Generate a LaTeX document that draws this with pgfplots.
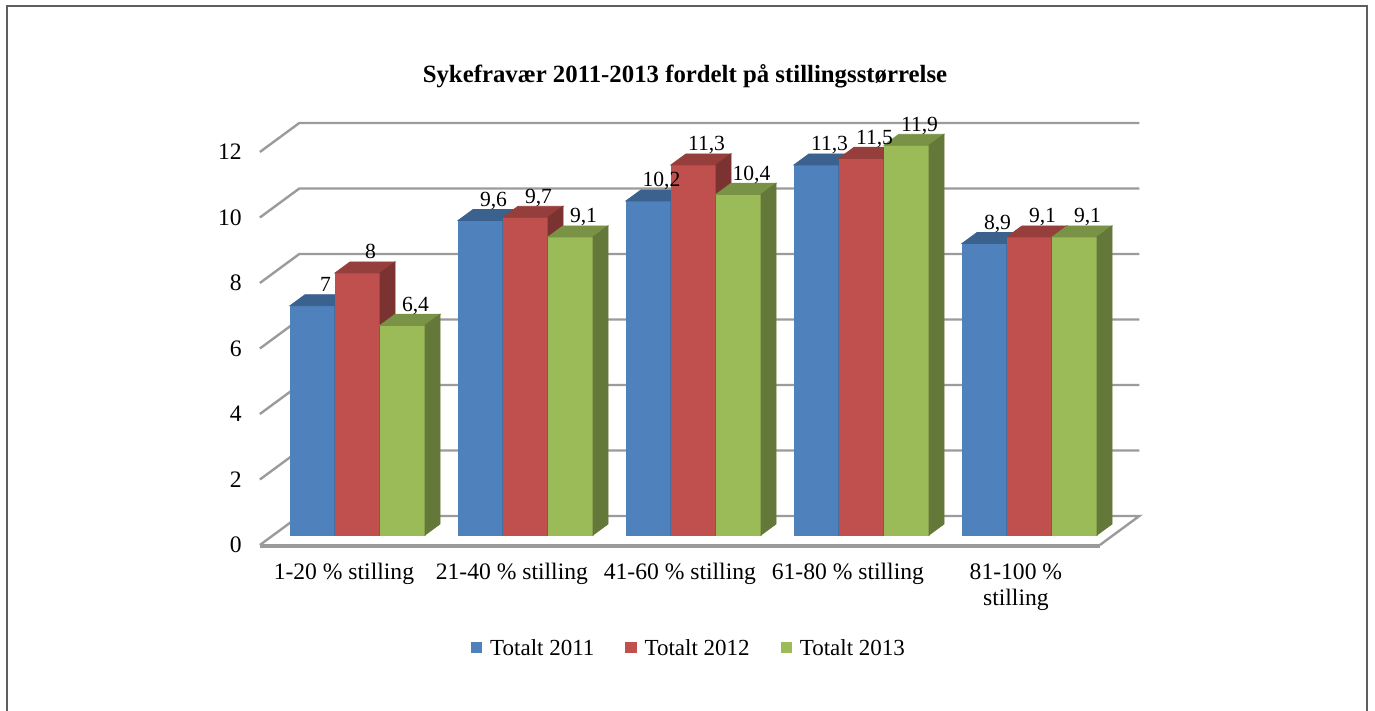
\documentclass[border=0pt]{standalone}
\usepackage{fontspec}
\setmainfont{Liberation Serif}
\usepackage{pgfplots}
\pgfplotsset{compat=1.18}
\usepackage{pgfplotstable}

\definecolor{cA}{RGB}{79,129,189}
\definecolor{cB}{RGB}{192,80,77}
\definecolor{cC}{RGB}{155,187,89}
\definecolor{gridc}{RGB}{155,155,155}
\definecolor{framec}{RGB}{95,95,95}

% Totalt 2011
\pgfplotstableread{
x v
0 7
1 9.6
2 10.2
3 11.3
4 8.9
}\tA
% Totalt 2012
\pgfplotstableread{
x v
0 8
1 9.7
2 11.3
3 11.5
4 9.1
}\tB
% Totalt 2013
\pgfplotstableread{
x v
0 6.4
1 9.1
2 10.4
3 11.9
4 9.1
}\tC

\pgfdeclareplotmark{empty}{}

\pgfplotsset{
  faces/.style n args={4}{
    forget plot, only marks, mark=empty, scatter,
    visualization depends on={\thisrow{v} \as \yval},
    scatter/@pre marker code/.code={%
      \fill[#1] ({#4-11.25pt},0pt) rectangle ({#4+11.25pt},{-\yval*16.375pt});
      \fill[#2] ({#4-11.25pt},0pt) -- ({#4+11.25pt},0pt) -- ({#4+18.75pt},5.5pt) -- ({#4-3.75pt},5.5pt) -- cycle;
      \fill[#3] ({#4+11.25pt},0pt) -- ({#4+18.75pt},5.5pt) -- ({#4+18.75pt},{5.5pt-\yval*16.375pt}) -- ({#4+11.25pt},{-\yval*16.375pt}) -- cycle;
    },
    scatter/@post marker code/.code={},
  },
  front/.style 2 args={ybar, bar width=22.5pt, bar shift=#2, fill=#1, draw=none},
  labels/.style={forget plot, draw=none, mark=none, point meta=y, nodes near coords,
     every node near coord/.style={anchor=base, xshift=#1+6.5pt, yshift=7pt,
        font=\fontsize{10.8}{12}\selectfont, inner sep=0pt, text=black},
     /pgf/number format/use comma},
}

\begin{document}
\begin{tikzpicture}
\useasboundingbox (0,0) rectangle (687.5pt,355.5pt);
\draw[framec, line width=1pt] (3.5pt,-2pt) -- (3.5pt,352.5pt) -- (683.5pt,352.5pt) -- (683.5pt,-2pt);
\begin{axis}[
  at={(136.75pt,88pt)}, anchor=south west,
  x=84pt, y=16.375pt,
  xmin=-0.5, xmax=4.5, ymin=0, ymax=12,
  clip=false,
  axis line style={draw=none},
  major tick length=0pt,
  xtick={0,...,4},
  xticklabels={1-20 \% stilling, 21-40 \% stilling, 41-60 \% stilling, 61-80 \% stilling, {81-100 \%\\stilling}},
  ytick={0,2,...,12},
  xtick pos=bottom, ytick pos=left,
  xticklabel style={anchor=north, align=center, inner sep=0pt, xshift=-6.8pt, yshift=-14pt,
     font=\fontsize{11.8}{13}\selectfont},
  yticklabel style={anchor=east, inner sep=0pt, xshift=-15.75pt, yshift=-5pt,
     font=\fontsize{11.8}{13}\selectfont},
  /pgf/number format/assume math mode=true,
  title={Sykefravær 2011-2013 fordelt på stillingsstørrelse},
  title style={at={(axis description cs:0.4899,1.122)}, anchor=base,
     font=\bfseries\fontsize{12.4}{14}\selectfont, inner sep=0pt},
  legend columns=3,
  legend style={draw=none, fill=none, at={(axis description cs:0.4958,-0.290)}, anchor=center,
     font=\fontsize{11.5}{13}\selectfont,
     /tikz/every odd column/.append style={column sep=2pt},
     /tikz/every even column/.append style={column sep=13.5pt}},
  legend image code/.code={\fill[#1] (0pt,-2.2pt) rectangle (5.6pt,3.4pt);},
]
% side wall and back wall gridlines
\pgfplotsinvokeforeach{2,4,...,12}{
  \draw[gridc, line width=1.2pt]
    ([xshift=-6.8pt,yshift=-5pt]axis cs:-0.5,#1) --
    ([xshift=12.9pt,yshift=9.5pt]axis cs:-0.5,#1) --
    ([xshift=12.9pt,yshift=9.5pt]axis cs:4.5,#1);
}
% floor
\draw[gridc, line width=1.2pt]
    ([xshift=-6.8pt,yshift=-5pt]axis cs:-0.5,0) --
    ([xshift=12.9pt,yshift=9.5pt]axis cs:-0.5,0) --
    ([xshift=12.9pt,yshift=9.5pt]axis cs:4.5,0) --
    ([xshift=-6.8pt,yshift=-5pt]axis cs:4.5,0);
\draw[gridc, line width=1.8pt]
    ([xshift=-6.8pt,yshift=-5.4pt]axis cs:-0.5,0) --
    ([xshift=-6.8pt,yshift=-5.4pt]axis cs:4.5,0);

\addplot[front={cA}{-22.5pt}] table[x=x,y=v] {\tA};
\addlegendentry{Totalt 2011}
\addplot[front={cB}{0pt}] table[x=x,y=v] {\tB};
\addlegendentry{Totalt 2012}
\addplot[front={cC}{22.5pt}] table[x=x,y=v] {\tC};
\addlegendentry{Totalt 2013}

\addplot[faces={cA}{cA!75!black}{cA!60!black}{-22.5pt}] table[x=x,y=v] {\tA};
\addplot[faces={cB}{cB!78!black}{cB!64!black}{0pt}] table[x=x,y=v] {\tB};
\addplot[faces={cC}{cC!78!black}{cC!64!black}{22.5pt}] table[x=x,y=v] {\tC};

\addplot[labels=-22.5pt] table[x=x,y=v] {\tA};
\addplot[labels=0pt] table[x=x,y=v] {\tB};
\addplot[labels=22.5pt] table[x=x,y=v] {\tC};
\end{axis}
\end{tikzpicture}
\end{document}
